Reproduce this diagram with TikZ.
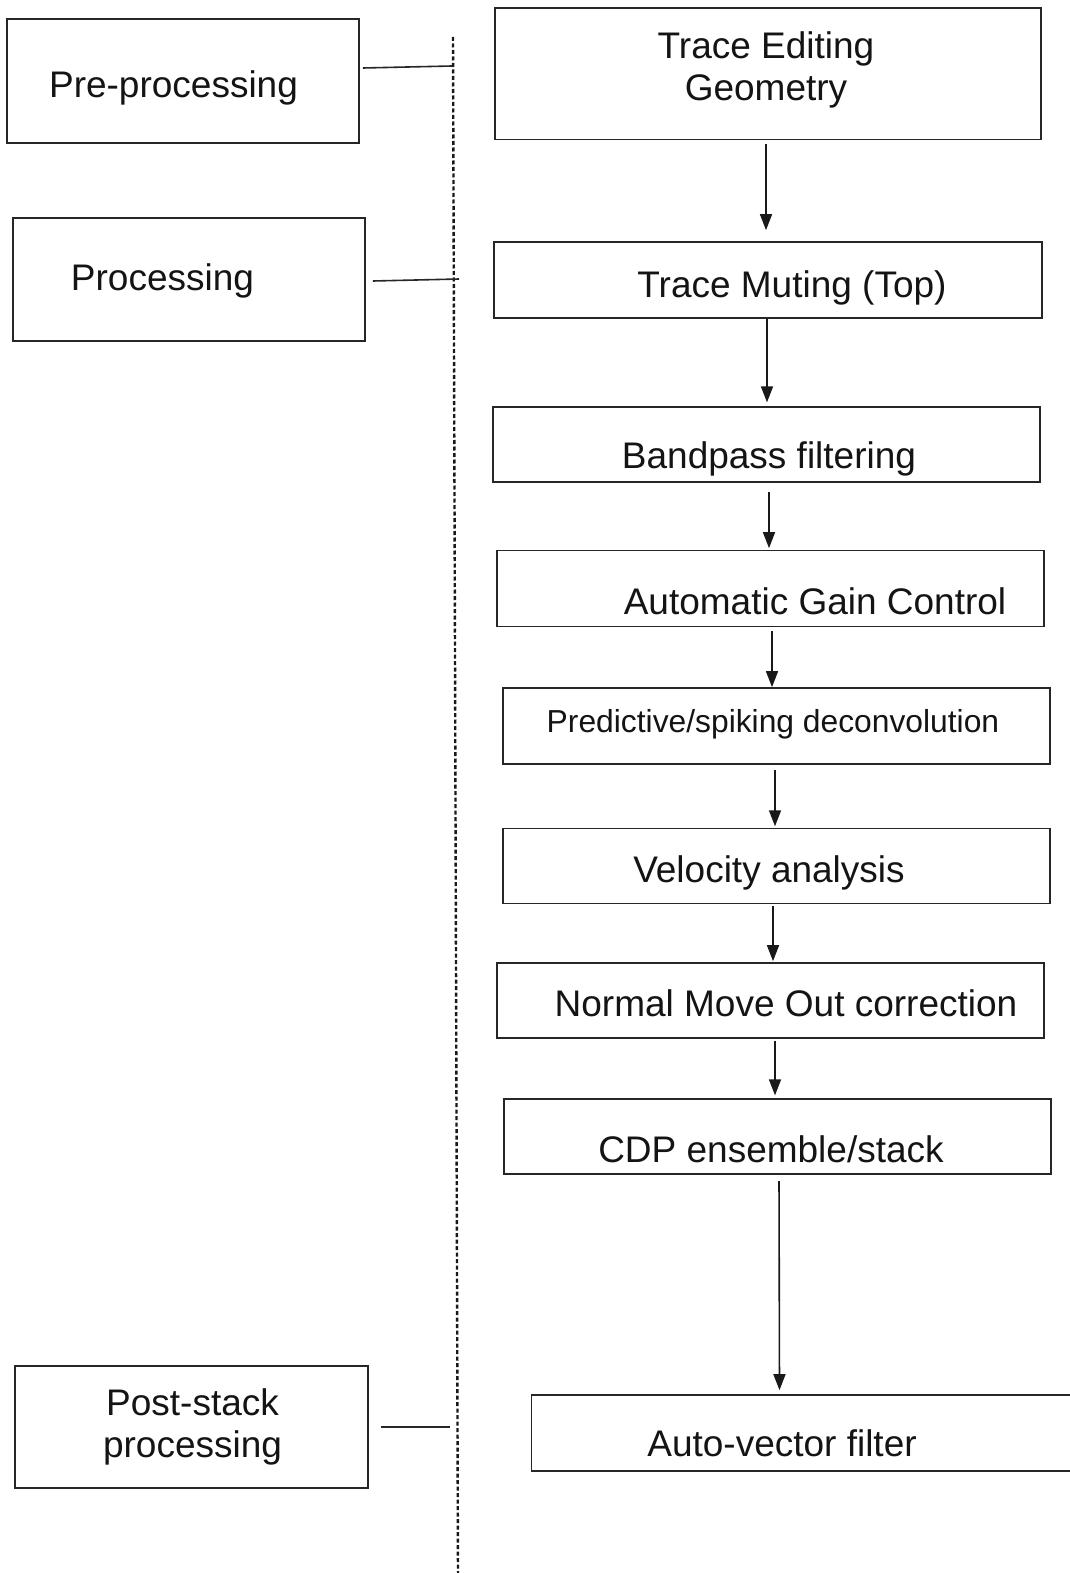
\documentclass[tikz,border=0pt]{standalone}
\usepackage{fontspec}
\setmainfont{Liberation Sans}
\usetikzlibrary{arrows.meta}
\begin{document}
\begin{tikzpicture}[x=1pt,y=-1pt,
  box/.style={draw=black!85, line width=1.7pt, inner sep=0pt},
  lbl/.style={inner sep=0pt, text=black!92, font=\fontsize{37}{42}\selectfont, align=center},
  lblsm/.style={inner sep=0pt, text=black!92, font=\fontsize{31.8}{38}\selectfont, align=center},
  arr/.style={draw=black!90, line width=1.6pt, -{Triangle[length=16pt,width=12pt]}},
  link/.style={draw=black!85, line width=1.6pt},
  divider/.style={draw=black!90, line width=2.4pt, dash pattern=on 4pt off 2.5pt}]
\useasboundingbox (0,0) rectangle (1070,1573);
\fill[white] (0,0) rectangle (1070,1573);

% left category boxes
\node[box, minimum width=352, minimum height=124.5] (L1) at (183,81) {};
\node[box, minimum width=352, minimum height=123] (L2) at (189,279.3) {};
\node[box, minimum width=353, minimum height=122] (L3) at (191.5,1427) {};
\node[lbl] (tL1) at (173.5,87.5) {Pre-processing};
\node[lbl] (tL2) at (162.5,280.5) {Processing};
\node[lbl] (tL3) at (192.5,1427) {Post-stack\\processing};

% dashed divider
\coordinate (dtop) at (453,37);
\coordinate (dbot) at (458,1578);
\draw[divider] (dtop) -- (dbot);
\coordinate (c1) at (452,66);
\coordinate (c2) at (459,279);
\coordinate (c3) at (450,1427);
\draw[link] ([shift={(3,-13)}]L1.east) -- (c1);
\draw[link] ([shift={(7,1.7)}]L2.east) -- (c2);
\draw[link, line width=2.3pt] ([shift={(12,0)}]L3.east) -- (c3);

% right process boxes
\node[box, minimum width=546, minimum height=131.4] (b1) at (768,73.7) {};
\node[box, minimum width=548, minimum height=76] (b2) at (768,279.8) {};
\node[box, minimum width=547, minimum height=75] (b3) at (766.6,444.7) {};
\node[box, minimum width=547, minimum height=76] (b4) at (770.7,588.6) {};
\node[box, minimum width=547, minimum height=76] (b5) at (776.7,726) {};
\node[box, minimum width=547, minimum height=75] (b6) at (776.7,866) {};
\node[box, minimum width=547, minimum height=75] (b7) at (770.7,1000.3) {};
\node[box, minimum width=547, minimum height=75] (b8) at (777.7,1136.7) {};
\node[box, minimum width=552, minimum height=76] (b9) at (807.5,1433) {};

\node[lbl] (t1) at (766,70) {Trace Editing\\Geometry};
\node[lbl] (t2) at (792,287.5) {Trace Muting (Top)};
\node[lbl] (t3) at (769,458.5) {Bandpass filtering};
\node[lbl] (t4) at (815,601) {Automatic Gain Control};
\node[lblsm] (t5) at (773,724) {Predictive/spiking deconvolution};
\node[lbl] (t6) at (769,872.5) {Velocity analysis};
\node[lbl] (t7) at (786,1003) {Normal Move Out correction};
\node[lbl] (t8) at (771,1149) {CDP ensemble/stack};
\node[lbl] (t9) at (782,1443) {Auto-vector filter};

% arrows
\draw[arr, shorten <=3.6pt, shorten >=10.8pt] ([xshift=-2]b1.south) -- ([xshift=-2]b2.north);
\draw[arr, shorten >=4pt] ([xshift=-1]b2.south) -- ([xshift=0.4]b3.north);
\draw[arr, shorten <=9pt, shorten >=1.6pt] ([xshift=2.4]b3.south) -- ([xshift=-1.7]b4.north);
\draw[arr, shorten <=3.4pt] ([xshift=1.3]b4.south) -- ([xshift=-4.7]b5.north);
\draw[arr, shorten <=5pt, shorten >=1.4pt] ([xshift=-1.7]b5.south) -- ([xshift=-1.7]b6.north);
\draw[arr, shorten <=1.4pt, shorten >=0.8pt] ([xshift=-3.7]b6.south) -- ([xshift=2.3]b7.north);
\draw[arr, shorten <=2pt, shorten >=3pt] ([xshift=4.3]b7.south) -- ([xshift=-2.7]b8.north);
\draw[arr, shorten <=6pt, shorten >=4pt] ([xshift=1.3]b8.south) -- ([xshift=-28]b9.north);
\end{tikzpicture}
\end{document}
